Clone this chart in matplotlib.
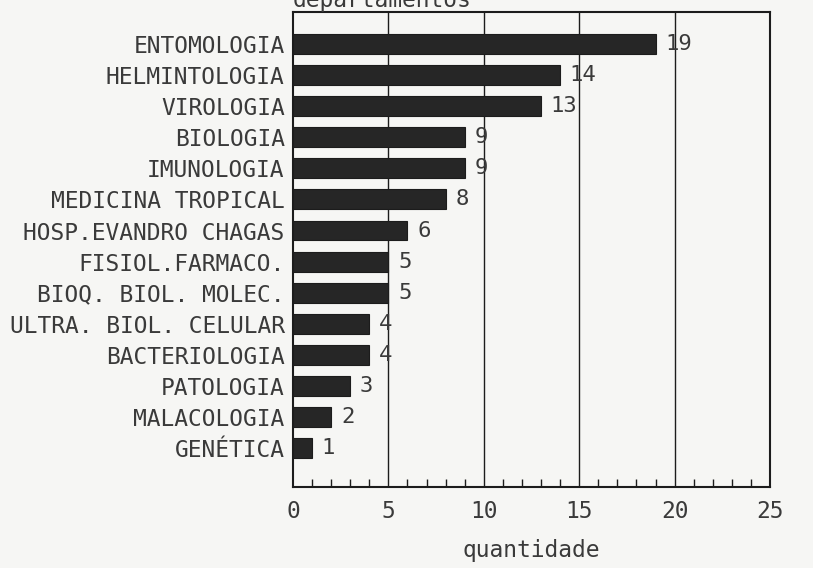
import matplotlib
matplotlib.use('Agg')
import matplotlib.pyplot as plt
from matplotlib.ticker import MultipleLocator

# departamentos e quantidades, de cima para baixo
departamentos = ['ENTOMOLOGIA', 'HELMINTOLOGIA', 'VIROLOGIA', 'BIOLOGIA',
                 'IMUNOLOGIA', 'MEDICINA TROPICAL', 'HOSP.EVANDRO CHAGAS',
                 'FISIOL.FARMACO.', 'BIOQ. BIOL. MOLEC.', 'ULTRA. BIOL. CELULAR',
                 'BACTERIOLOGIA', 'PATOLOGIA', 'MALACOLOGIA', 'GENÉTICA']
quantidade = [19, 14, 13, 9, 9, 8, 6, 5, 5, 4, 4, 3, 2, 1]
x_ticks = [0, 5, 10, 15, 20, 25]

bg = '#f6f6f4'
ink = '#1c1c1c'
txt = '#3a3a3a'
plt.rcParams['font.family'] = ['DejaVu Sans Mono', 'DejaVu Sans']

fig = plt.figure(figsize=(8.13, 5.68), dpi=100, facecolor=bg)
ax = fig.add_axes([0.3604, 0.1426, 0.5867, 0.8363], facecolor=bg)

pos = list(range(len(departamentos)))
ax.barh(pos, quantidade, height=0.64, color='#262626', edgecolor=ink, linewidth=0.8, zorder=3)

for p, q in zip(pos, quantidade):
    ax.annotate(str(q), (q, p), xytext=(7, 0), textcoords='offset points',
                va='center', ha='left', fontsize=16, color=txt)

ax.set_xlim(0, 25)
ax.set_ylim(len(departamentos) - 1 + 1.25, -1.03)
ax.set_yticks(pos)
ax.set_yticklabels(departamentos, fontsize=16.5, color=txt)
ax.tick_params(axis='y', length=0, pad=6)

ax.set_xticks(x_ticks)
ax.set_xticklabels([str(t) for t in x_ticks], fontsize=16.5, color=txt)
ax.xaxis.set_minor_locator(MultipleLocator(1))
ax.tick_params(axis='x', which='major', direction='in', length=0, pad=9)
ax.tick_params(axis='x', which='minor', direction='in', length=6, width=1, color=ink)

for t in x_ticks[1:-1]:
    ax.axvline(t, color=ink, linewidth=1.0, zorder=1)

for s in ax.spines.values():
    s.set_color(ink)
    s.set_linewidth(1.5)

ax.set_xlabel('quantidade', fontsize=16.5, color=txt, labelpad=12)
ax.set_title('departamentos', loc='left', fontsize=16.5, color=txt, pad=3)

fig.savefig('out.png', dpi=100, facecolor=bg)
